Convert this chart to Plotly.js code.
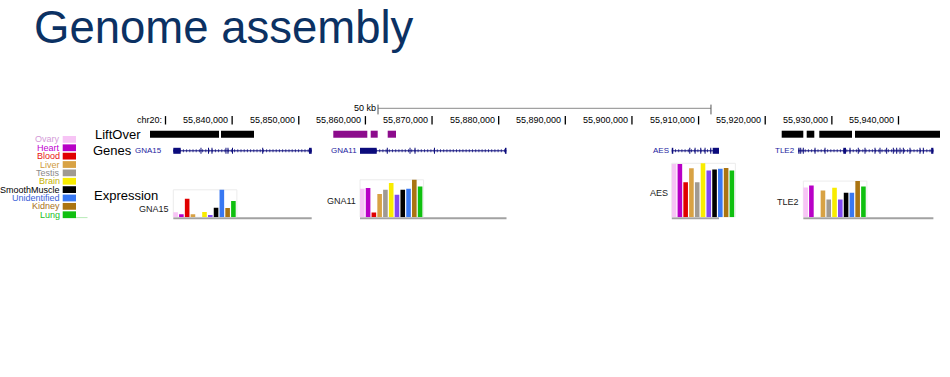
<!DOCTYPE html>
<html><head><meta charset="utf-8">
<script src="https://cdn.plot.ly/plotly-3.0.1.min.js"></script>
<style>html,body{margin:0;padding:0;background:#fff}#chart{width:950px;height:377px}</style>
</head><body><div id="chart"></div>
<script>
// ================= DATA =================
const chromName = "chr20";
const tickPositions = [55830000,55840000,55850000,55860000,55870000,55880000,55890000,55900000,55910000,55920000,55930000,55940000];
const tickLabels = ["chr20:","55,840,000","55,850,000","55,860,000","55,870,000","55,880,000","55,890,000","55,900,000","55,910,000","55,920,000","55,930,000","55,940,000"];
const scaleBarStart = 55861890, scaleBarEnd = 55911860, scaleBarLabel = "50 kb";

const liftOverStarts = [55827674,55838329,55855182,55860794,55863346,55922473,55926225,55928116,55933473];
const liftOverEnds   = [55838029,55843281,55860284,55861845,55864591,55925715,55927365,55933023,55946229];
const liftOverChain  = ["a","a","b","b","b","a","a","a","a"];

const geneNames  = ["GNA15","GNA11","AES","TLE2"];
const geneStarts = [55831171,55859189,55905979,55924966];
const geneEnds   = [55851940,55881174,55913064,55945238];
const exonStarts = [
  [55831171,55835250,55836380,55836900,55839000,55839300,55839980,55844510,55851535],
  [55859189,55863210,55866620,55867370,55870290,55880940],
  [55905979,55908600,55909400,55910250,55910900,55911750,55912118],
  [55924966,55925250,55925640,55927400,55928900,55931717,55932650,55933890,55934900,55936400,55937150,55938150,55939150,55939650,55940150,55940650,55941650,55943150,55943650,55944900]
];
const exonEnds = [
  [55832281,55835400,55836530,55837050,55839150,55839450,55840130,55844660,55851940],
  [55861695,55863360,55866770,55867520,55870440,55881174],
  [55906200,55908760,55909550,55910400,55911050,55911900,55913064],
  [55925150,55925400,55925790,55927550,55929050,55932122,55932800,55934040,55935050,55936550,55937300,55938300,55939300,55939800,55940300,55940800,55941800,55943300,55943800,55945238]
];

const tissues = ["Ovary","Heart","Blood","Liver","Testis","Brain","Unlisted","SmoothMuscle","Unidentified","Kidney","Lung"];
const legendTissues = ["Ovary","Heart","Blood","Liver","Testis","Brain","SmoothMuscle","Unidentified","Kidney","Lung"];
const exprStarts = [55831171,55859189,55905979,55925717];
const exprGNA15 = [5.0, 3.0, 18.5, 3.0, 0, 5.2, 2.4, 9.5, 27.5, 9.3, 16.2];
const exprGNA11 = [28.5, 29.3, 4.7, 23.3, 27.5, 34.3, 22.5, 27.5, 28.5, 37.5, 30.7];
const exprAES   = [53.3, 53.3, 35.0, 49.0, 35.0, 54.0, 46.7, 47.7, 48.5, 49.2, 46.7];
const exprTLE2  = [29.8, 31.8, 0, 26.8, 17.8, 29.5, 17.8, 24.5, 24.5, 36.2, 30.8];
const exprAll = [exprGNA15, exprGNA11, exprAES, exprTLE2];

// ================= STYLE =================
const FONT = "Liberation Sans, Arial, Helvetica, sans-serif";
const W = 950, H = 377;
const BP_PER_PX = 150.07;
const X0 = 55830000 - 165.5*BP_PER_PX, X1 = X0 + W*BP_PER_PX;
const geneColor = "#0c0c7c", geneText = "#2424a0";
const chainColor = {a:"#000000", b:"#8c0c8c"};
const tissueColor = {Ovary:"#f7c4f5",Heart:"#b800c6",Blood:"#e00000",Liver:"#d8a244",Testis:"#a09a92",Brain:"#f8ec00",Unlisted:"#8048f2",SmoothMuscle:"#000000",Unidentified:"#3878f2",Kidney:"#aa7412",Lung:"#10c010"};
const tissueTextColor = {Ovary:"#d49ad8",Heart:"#c000d0",Blood:"#e81414",Liver:"#cf9a3c",Testis:"#8a8a8a",Brain:"#c4b000",SmoothMuscle:"#000000",Unidentified:"#3a62d8",Kidney:"#a87018",Lung:"#1cc01c"};
const ROW_LIFT = 134.2, ROW_GENE = 150.8, BASE_Y = 217.3, RULER_Y = 120.3, SCALE_Y = 108.3;
const BAR_PITCH = 5.78*BP_PER_PX, BAR_W = 4.6*BP_PER_PX;

const traces = [];
const shapes = [];
const annotations = [];

// ruler ticks
traces.push({type:"scatter", mode:"markers", x:tickPositions, y:tickPositions.map(()=>RULER_Y),
  marker:{symbol:"line-ns", size:6, line:{width:1.3,color:"#000"}}, xaxis:"x", yaxis:"y", hoverinfo:"skip"});
tickPositions.forEach((p,i)=>annotations.push({x:p, y:RULER_Y-0.3, xref:"x", yref:"y", text:tickLabels[i], showarrow:false,
  xanchor:"right", yanchor:"middle", xshift:-3, borderpad:0, font:{family:FONT,size:9,color:"#000"}}));

// scale bar
traces.push({type:"scatter", mode:"lines", x:[scaleBarStart,scaleBarEnd], y:[SCALE_Y,SCALE_Y], line:{color:"#8a8a8a",width:1}, hoverinfo:"skip"});
traces.push({type:"scatter", mode:"markers", x:[scaleBarStart,scaleBarEnd], y:[SCALE_Y+1.2,SCALE_Y+1.2],
  marker:{symbol:"line-ns", size:7, line:{width:1,color:"#555"}}, hoverinfo:"skip"});
annotations.push({x:scaleBarStart, y:SCALE_Y, xref:"x", yref:"y", text:scaleBarLabel, showarrow:false, xanchor:"right", yanchor:"middle",
  xshift:-1, borderpad:0, font:{family:FONT,size:9,color:"#000"}});

// LiftOver blocks
traces.push({type:"bar", orientation:"h", base:liftOverStarts, x:liftOverEnds.map((e,i)=>e-liftOverStarts[i]),
  y:liftOverStarts.map(()=>ROW_LIFT), width:7, marker:{color:liftOverChain.map(c=>chainColor[c]), line:{width:0}},
  xaxis:"x", yaxis:"y", hoverinfo:"skip"});

// Genes: intron lines
const ix=[], iy=[];
geneStarts.forEach((s,i)=>{ix.push(s,geneEnds[i],null); iy.push(ROW_GENE,ROW_GENE,null);});
traces.push({type:"scatter", mode:"lines", x:ix, y:iy, line:{color:geneColor,width:1}, hoverinfo:"skip"});
traces.push({type:"scatter", mode:"lines", x:ix, y:iy, line:{color:geneColor,width:3,dash:"1px,2.2px"}, opacity:0.75, hoverinfo:"skip"});
// exons
const eb=[], el=[], ey=[];
exonStarts.forEach((arr,g)=>arr.forEach((s,k)=>{eb.push(s); el.push(exonEnds[g][k]-s); ey.push(ROW_GENE);}));
traces.push({type:"bar", orientation:"h", base:eb, x:el, y:ey, width:6, marker:{color:geneColor,line:{width:0}},
  xaxis:"x", yaxis:"y", hoverinfo:"skip"});
const labelShift = {GNA15:-10};
geneNames.forEach((n,i)=>annotations.push({x:geneStarts[i], y:ROW_GENE, xref:"x", yref:"y", text:n, showarrow:false,
  xanchor:"right", yanchor:"middle", xshift:(labelShift[n]||-2), borderpad:0, font:{family:FONT,size:8,color:geneText}}));

// Expression
const exprLabelShift = {GNA15:-5};
exprAll.forEach((vals,g)=>{
  const st = exprStarts[g];
  const xs = vals.map((v,k)=>st + k*BAR_PITCH + BAR_W/2);
  const mx = Math.max(...vals);
  shapes.push({type:"rect", xref:"x", yref:"y2", x0:st, x1:st+tissues.length*BAR_PITCH, y0:0, y1:mx,
    line:{color:"#ececec",width:1}, fillcolor:"rgba(0,0,0,0)", layer:"below"});
  traces.push({type:"bar", x:xs, y:vals, width:BAR_W, marker:{color:tissues.map(t=>tissueColor[t]), line:{width:0}},
    xaxis:"x", yaxis:"y2", hoverinfo:"skip"});
  traces.push({type:"scatter", mode:"lines", x:[st, geneEnds[g]], y:[BASE_Y+1,BASE_Y+1], line:{color:"#a2a2a2",width:2},
    xaxis:"x", yaxis:"y", hoverinfo:"skip"});
  annotations.push({x:st, y:BASE_Y - mx/2, xref:"x", yref:"y", text:geneNames[g], showarrow:false, xanchor:"right", yanchor:"middle",
    xshift:-3, yshift:(exprLabelShift[geneNames[g]]||-2.3), borderpad:0, font:{family:FONT,size:9,color:"#1a1a1a"}});
});

// Track labels
[["LiftOver",94,ROW_LIFT],["Genes",92,ROW_GENE],["Expression",93,195]].forEach(([t,px,py])=>annotations.push({
  x:px/W, y:py, xref:"paper", yref:"y", text:t, showarrow:false, xanchor:"left", yanchor:"middle", borderpad:0,
  font:{family:FONT,size:13,color:"#000"}}));

// Tissue legend
legendTissues.forEach((t,i)=>{
  const y0 = 136 + i*8.37;
  shapes.push({type:"rect", xref:"paper", yref:"y", x0:62.7/W, x1:76/W, y0:y0, y1:y0+6.8, fillcolor:tissueColor[t], line:{width:0}});
  annotations.push({x:61/W, y:y0+3.4, xref:"paper", yref:"y", text:t, showarrow:false, xanchor:"right", yanchor:"middle",
    borderpad:0, font:{family:FONT,size:9,color:tissueTextColor[t]}});
});
shapes.push({type:"line", xref:"paper", yref:"y", x0:76/W, x1:87.5/W, y0:217.6, y1:217.6, line:{color:"#b8eab8",width:1}});

const layout = {
  width:W, height:H, margin:{l:0,r:0,t:0,b:0}, paper_bgcolor:"#fff", plot_bgcolor:"rgba(0,0,0,0)",
  showlegend:false, barmode:"overlay", hovermode:false,
  title:{text:"Genome assembly", font:{family:FONT,size:45.5,color:"#0b3163"}, x:34/W, xanchor:"left", xref:"paper",
    y:1-27/H, yanchor:"middle", yref:"container"},
  xaxis:{range:[X0,X1], domain:[0,1], visible:false, fixedrange:true},
  yaxis:{range:[H,0], domain:[0,1], visible:false, fixedrange:true},
  yaxis2:{range:[0,67.3], domain:[(H-BASE_Y)/H,(H-150)/H], visible:false, anchor:"x", fixedrange:true},
  shapes:shapes, annotations:annotations
};
Plotly.newPlot("chart", traces, layout, {staticPlot:true, displayModeBar:false});
</script></body></html>
